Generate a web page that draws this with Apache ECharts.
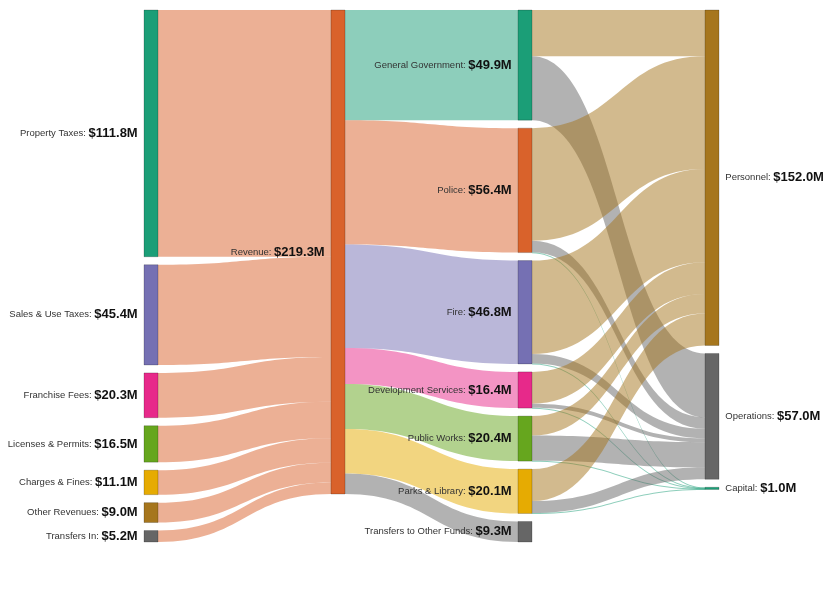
<!DOCTYPE html>
<html>
<head>
<meta charset="utf-8">
<title>Budget flow</title>
<script src="https://cdn.jsdelivr.net/npm/echarts@6/dist/echarts.min.js"></script>
<style>
  html, body { margin: 0; padding: 0; background: #fff; }
  #chart { width: 840px; height: 599px; }
</style>
</head>
<body>
<div id="chart"></div>
<script>
// revenue side ($M)
const revenueSources = ['Property Taxes', 'Sales & Use Taxes', 'Franchise Fees', 'Licenses & Permits',
  'Charges & Fines', 'Other Revenues', 'Transfers In']
const revenueAmounts = [111.8, 45.4, 20.3, 16.5, 11.1, 9.0, 5.2]

// spending by department ($M)
const departments = ['General Government', 'Police', 'Fire', 'Development Services',
  'Public Works', 'Parks & Library', 'Transfers to Other Funds']
const deptAmounts = [49.9, 56.4, 46.8, 16.4, 20.4, 20.1, 9.3]

// department -> expense type ($M), same order as departments
const expenseTypes = ['Personnel', 'Operations', 'Capital']
const personnelByDept = [21.0, 51.0, 42.3, 14.4, 8.8, 14.5, 0]
const operationsByDept = [28.9, 5.2, 4.3, 1.8, 11.4, 5.4, 0]
const capitalByDept = [0, 0.2, 0.2, 0.2, 0.2, 0.2, 0]

const nodeColors = {
  'Property Taxes': '#1b9e77', 'Sales & Use Taxes': '#7570b3', 'Franchise Fees': '#e7298a',
  'Licenses & Permits': '#66a61e', 'Charges & Fines': '#e6ab02', 'Other Revenues': '#a6761d',
  'Transfers In': '#666666', 'Revenue': '#d9622b',
  'General Government': '#1b9e77', 'Police': '#d9622b', 'Fire': '#7570b3',
  'Development Services': '#e7298a', 'Public Works': '#66a61e', 'Parks & Library': '#e6ab02',
  'Transfers to Other Funds': '#666666',
  'Personnel': '#a6761d', 'Operations': '#666666', 'Capital': '#1b9e77'
}

const allNames = [...revenueSources, 'Revenue', ...departments, ...expenseTypes]
const nodes = allNames.map(name => ({
  name,
  itemStyle: { color: nodeColors[name], borderColor: 'rgba(0,0,0,0.35)', borderWidth: 0.6 },
  label: expenseTypes.includes(name) ? { position: 'right' } : {}
}))

const links = []
revenueSources.forEach((s, i) => links.push({ source: s, target: 'Revenue', value: revenueAmounts[i] }))
departments.forEach((d, i) => links.push({ source: 'Revenue', target: d, value: deptAmounts[i] }))
const byType = [personnelByDept, operationsByDept, capitalByDept]
departments.forEach((d, i) => {
  expenseTypes.forEach((t, k) => {
    if (byType[k][i] > 0) links.push({ source: d, target: t, value: byType[k][i] })
  })
})

const font = 'Liberation Sans, Arial, sans-serif'
const chart = echarts.init(document.getElementById('chart'))
chart.setOption({
  animation: false,
  series: [{
    type: 'sankey',
    left: 144,
    right: 121,
    top: 10,
    bottom: 57,
    nodeWidth: 14,
    nodeGap: 8,
    nodeAlign: 'left',
    // keep the node order as listed
    layoutIterations: 0,
    draggable: false,
    emphasis: { disabled: true },
    data: nodes,
    links,
    lineStyle: { color: 'target', opacity: 0.5, curveness: 0.5 },
    label: {
      position: 'left',
      distance: 6,
      fontFamily: font,
      formatter: p => `{n|${p.name}: }{v|$${p.value.toFixed(1)}M}`,
      rich: {
        n: { fontSize: 9.5, color: '#333', fontFamily: font },
        v: { fontSize: 13, fontWeight: 'bold', color: '#111', fontFamily: font }
      }
    }
  }]
})
</script>
</body>
</html>
